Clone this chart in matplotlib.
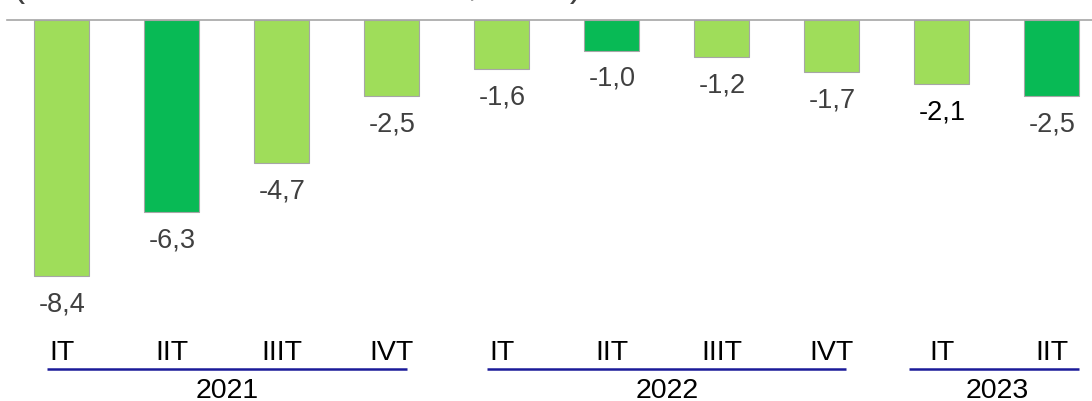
import matplotlib
matplotlib.use("Agg")
import matplotlib.pyplot as plt
import matplotlib.transforms as mtransforms
import numpy as np

plt.rcParams['font.family'] = ['Liberation Sans', 'DejaVu Sans']

# data
quarters = ['IT', 'IIT', 'IIIT', 'IVT', 'IT', 'IIT', 'IIIT', 'IVT', 'IT', 'IIT']
years = ['2021', '2022', '2023']
year_sizes = [4, 4, 2]
values = [-8.4, -6.3, -4.7, -2.5, -1.6, -1.0, -1.2, -1.7, -2.1, -2.5]
dark = [False, True, False, False, False, True, False, False, False, True]
title = '(Variación interanual del PIB, en %)'

LIGHT = '#9fdd5a'
DARK = '#08ba55'


def main():
    fig = plt.figure(figsize=(10.92, 4.01), dpi=100)
    ax = fig.add_axes([7 / 1092, 0, 1085 / 1092, 381 / 401])

    x = np.arange(len(values))
    colors = [DARK if d else LIGHT for d in dark]
    ax.bar(x, values, width=0.5, color=colors, edgecolor='#a6a6a6', linewidth=0.8)

    ax.set_xlim(-0.5, 9.364)
    ax.set_ylim(-381 / 30.5, 0)

    for s in ['left', 'right', 'bottom']:
        ax.spines[s].set_visible(False)
    ax.spines['top'].set_color('#a6a6a6')
    ax.spines['top'].set_linewidth(1.2)
    ax.set_xticks([])
    ax.set_yticks([])

    # value labels under the bars
    for i, v in enumerate(values):
        col = '#000000' if i == 8 else '#404040'
        ax.annotate(f'{v:.1f}'.replace('.', ','), (i, v), xytext=(0, -20.5),
                    textcoords='offset points', ha='center', va='center',
                    fontsize=19.5, color=col)

    # category axis drawn as text + underline per year
    trans = mtransforms.blended_transform_factory(ax.transData, ax.transAxes)
    for i, q in enumerate(quarters):
        ax.text(i, 0.127, q, transform=trans, ha='center', va='center',
                fontsize=20.5, color='black', clip_on=False)

    pads = [(0.14, 0.14), (0.14, 0.13), (0.3, 0.25)]
    start = 0
    for y, n, (pl, pr) in zip(years, year_sizes, pads):
        first, last = start, start + n - 1
        ax.plot([first - pl, last + pr], [0.083, 0.083], transform=trans,
                color='#1a1a99', linewidth=1.8, clip_on=False, solid_capstyle='butt')
        ax.text((first + last) / 2, 0.025, y, transform=trans, ha='center',
                va='center', fontsize=20.5, color='black', clip_on=False)
        start += n

    # title mostly outside the canvas, only descenders show
    fig.text(13 / 1092, 1 + 3.5 / 401, title, ha='left', va='baseline',
             fontsize=26, color='#404040')

    fig.savefig('out.png', dpi=100)


if __name__ == '__main__':
    main()
